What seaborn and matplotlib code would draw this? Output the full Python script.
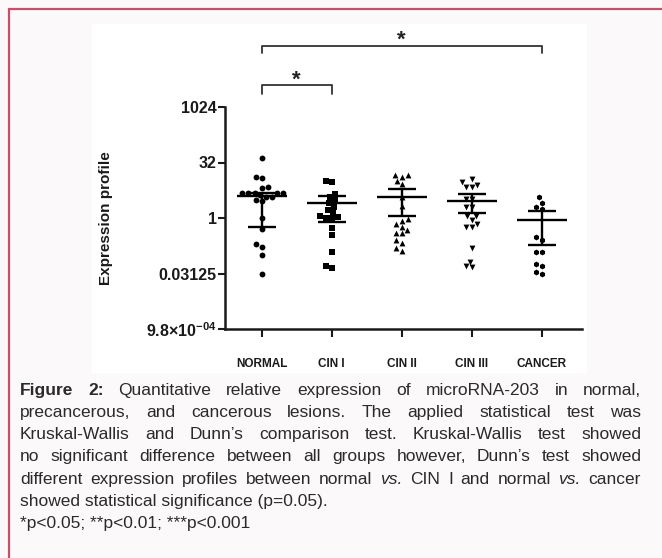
import numpy as np
import pandas as pd
import matplotlib
matplotlib.use("Agg")
import matplotlib.pyplot as plt
import seaborn as sns
from matplotlib.patches import Rectangle
from matplotlib.lines import Line2D
from matplotlib.transforms import blended_transform_factory

# ---------------- data (log2 of relative expression) -------------
categories = ["NORMAL", "CIN I", "CIN II", "CIN III", "CANCER"]
markers = ["o", "s", "^", "v", "h"]

normal_log2 = [5.38, 3.67, 3.58, 2.82, 2.68, 2.23, 2.23, 2.23, 2.23, 2.23, 2.07,
               1.92, 1.92, 1.62, 1.56, 0.03, -0.99, -2.34, -2.59, -3.33, -5.05]
cin1_log2 = [3.36, 3.24, 2.16, 1.90, 1.62, 1.35, 1.00, 0.72, 0.48, 0.20, 0.12,
             -0.03, -0.03, -0.93, -1.53, -3.06, -4.32, -4.50]
cin2_log2 = [3.87, 3.87, 3.69, 3.36, 3.06, 1.90, 1.11, -0.09, -0.27, -0.54, -0.81,
             -1.08, -1.35, -1.35, -1.98, -2.25, -2.70, -2.97]
cin3_log2 = [3.49, 3.20, 2.97, 2.75, 2.75, 1.71, 1.71, 1.02, 1.02, 0.18, 0.18,
             -0.18, -0.54, -0.84, -0.84, -2.73, -3.94, -4.32, -4.44]
cancer_log2 = [1.86, 1.38, 0.96, 0.78, -1.74, -1.98, -3.09, -3.09, -4.14, -4.30,
               -4.89, -5.05]

median_log2 = [2.00, 1.32, 1.87, 1.50, -0.15]
q1_log2 = [-0.84, -0.33, 0.20, 0.48, -2.43]
q3_log2 = [2.25, 2.00, 2.60, 2.16, 0.66]

ytick_values = [2.0 ** -10, 2.0 ** -5, 1, 32, 1024]
ytick_labels = ["9.8$\\times$10$^{\\mathbf{-04}}$", "0.03125", "1", "32", "1024"]

caption_justified = [
    [("Figure 2:", "bold"), ("Quantitative relative expression of microRNA-203 in normal,", "normal")],
    [("precancerous, and cancerous lesions. The applied statistical test was", "normal")],
    [("Kruskal-Wallis and Dunn’s comparison test. Kruskal-Wallis test showed", "normal")],
    [("no significant difference between all groups however, Dunn’s test showed", "normal")],
    [("different expression profiles between normal", "normal"), ("vs.", "italic"),
     ("CIN I and normal", "normal"), ("vs.", "italic"), ("cancer", "normal")],
]
caption_left = [
    "showed statistical significance (p=0.05).",
    "*p<0.05; **p<0.01; ***p<0.001",
]

groups = [normal_log2, cin1_log2, cin2_log2, cin3_log2, cancer_log2]
df = pd.DataFrame({
    "group": np.concatenate([[c] * len(v) for c, v in zip(categories, groups)]),
    "value": np.concatenate([2.0 ** np.array(v) for v in groups]),
})

# ---------------- style ----------------
sns.set_theme(style="white")
plt.rcParams["font.family"] = ["Liberation Sans", "DejaVu Sans"]
plt.rcParams["mathtext.fontset"] = "custom"
plt.rcParams["mathtext.rm"] = "Liberation Sans:bold"
plt.rcParams["mathtext.bf"] = "Liberation Sans:bold"
plt.rcParams["mathtext.it"] = "Liberation Sans:italic"

W, H = 662, 558
fig = plt.figure(figsize=(W / 100, H / 100), dpi=100)
fig.patch.set_facecolor("#fcf9fa")

def fx(px):
    return px / W

def fy(py):
    return 1 - py / H

# white chart panel
fig.patches.append(Rectangle((fx(92), fy(373)), fx(587) - fx(92), fy(24) - fy(373),
                             transform=fig.transFigure, facecolor="white",
                             edgecolor="none", zorder=0))
# border lines
border_c = "#c4506c"
fig.add_artist(Line2D([fx(9), fx(9)], [0, fy(9)], color=border_c, lw=1.6))
fig.add_artist(Line2D([fx(9), 1], [fy(9), fy(9)], color=border_c, lw=1.6))

ax = fig.add_axes([fx(225), fy(329), fx(582) - fx(225), fy(107) - fy(329)])
ax.set_facecolor("none")
ax.set_zorder(3)

for cat, mk in zip(categories, markers):
    sns.swarmplot(data=df[df["group"] == cat], x="group", y="value", order=categories,
                  marker=mk, color="black", size=4.2, linewidth=0, log_scale=2, ax=ax)

xs = np.arange(len(categories))
med = 2.0 ** np.array(median_log2)
q1 = 2.0 ** np.array(q1_log2)
q3 = 2.0 ** np.array(q3_log2)
ax.hlines(med, xs - 0.355, xs + 0.355, color="black", lw=1.7, zorder=5)
ax.hlines(q1, xs - 0.2, xs + 0.2, color="black", lw=1.7, zorder=5)
ax.hlines(q3, xs - 0.2, xs + 0.2, color="black", lw=1.7, zorder=5)
ax.vlines(xs, q1, q3, color="black", lw=1.7, zorder=5)

ax.set_yscale("log", base=2)
ax.set_ylim(2.0 ** -10, 2.0 ** 10)
ax.set_xlim(-0.525, 4.575)
ax.set_yticks(ytick_values)
ax.set_yticklabels(ytick_labels)
ax.yaxis.set_minor_locator(matplotlib.ticker.NullLocator())
ax.set_xticks(xs)
ax.set_xticklabels(categories)
for lab in ax.get_yticklabels():
    lab.set_fontweight("bold")
    lab.set_fontsize(11.5)
    lab.set_color("#1a1a1a")
for lab in ax.get_xticklabels():
    lab.set_fontweight("bold")
    lab.set_fontsize(8.5)
    lab.set_color("#1a1a1a")
ax.set_xlabel("")
ax.set_ylabel("Expression profile", fontsize=11, fontweight="bold", color="#1a1a1a")
ax.yaxis.set_label_coords((113 - 225) / 357.0, 0.5)

for s in ["top", "right"]:
    ax.spines[s].set_visible(False)
for s in ["left", "bottom"]:
    ax.spines[s].set_linewidth(1.8)
    ax.spines[s].set_color("#1a1a1a")
ax.tick_params(axis="y", which="major", length=5, width=1.5, color="#1a1a1a", pad=1, left=True)
ax.tick_params(axis="x", which="major", length=6, width=1.5, color="#1a1a1a", pad=15, bottom=True)

# significance brackets
tr = blended_transform_factory(ax.transData, ax.transAxes)
def ay(py):
    return (329 - py) / 222.0

for (x0, x1, ytop, ybot, ystar) in [(0, 4, 46, 53, 46), (0, 1, 85, 94, 86)]:
    ax.plot([x0, x0, x1, x1], [ay(ybot), ay(ytop), ay(ytop), ay(ybot)], transform=tr,
            color="#333333", lw=1.3, clip_on=False)
    ax.text((x0 + x1) / 2, ay(ystar), "*", transform=tr, ha="center", va="baseline",
            fontsize=16, fontweight="bold", color="#222222", clip_on=False)

# caption
cap_fs = 12.5
cap_color = "#2a2a2a"
x_left, x_right = 20, 641
baselines = [395, 417, 439, 461, 484, 506, 528]
renderer = fig.canvas.get_renderer()

for line, yb in zip(caption_justified, baselines):
    words = []
    for seg, sty in line:
        for w in seg.split(" "):
            words.append((w, sty))
    texts = []
    for w, sty in words:
        kw = dict(fontsize=cap_fs, color=cap_color, va="baseline", ha="left")
        if sty == "bold":
            kw["fontweight"] = "bold"
        if sty == "italic":
            kw["fontstyle"] = "italic"
        t = fig.text(fx(x_left), fy(yb), w, **kw)
        texts.append(t)
    widths = [t.get_window_extent(renderer).width for t in texts]
    gap = (x_right - x_left - sum(widths)) / (len(texts) - 1)
    xcur = x_left
    for t, wd in zip(texts, widths):
        t.set_x(fx(xcur))
        xcur += wd + gap

for line, yb in zip(caption_left, baselines[len(caption_justified):]):
    fig.text(fx(x_left), fy(yb), line, fontsize=cap_fs, color=cap_color,
             va="baseline", ha="left")

fig.savefig("out.png", dpi=100, facecolor=fig.get_facecolor())
